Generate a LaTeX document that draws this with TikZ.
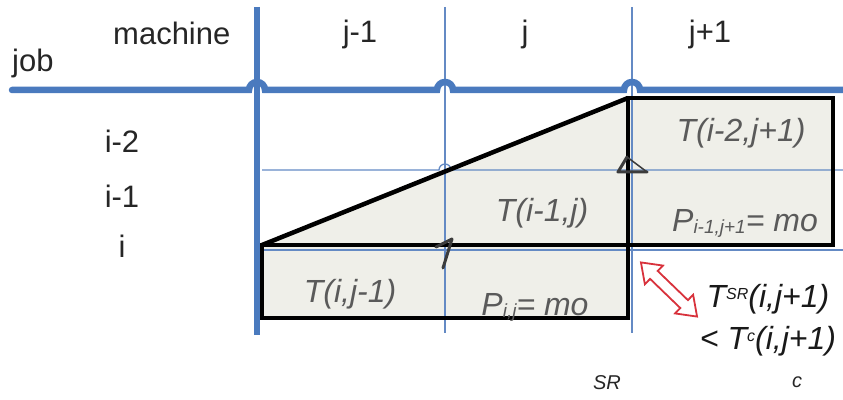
\documentclass[tikz,border=0pt]{standalone}
\usepackage{fontspec}
\setmainfont{Liberation Sans}
\definecolor{myblue}{RGB}{74,122,190}
\definecolor{thinblue}{RGB}{100,138,196}
\definecolor{cellfill}{RGB}{239,239,233}
\definecolor{celltext}{RGB}{90,90,90}
\definecolor{arrowred}{RGB}{216,50,60}
\definecolor{markgray}{RGB}{60,60,60}
\tikzset{
  thickgrid/.style={draw=myblue, line width=6.5pt},
  thingrid/.style={draw=thinblue, line width=1.3pt},
  blk/.style={draw=black, line width=4.5pt, line join=miter},
  lab/.style={font=\fontsize{31}{36}\selectfont, text=black!85, inner sep=0pt, anchor=base},
  cell/.style={font=\fontsize{32}{36}\selectfont\itshape, text=celltext, inner sep=0pt, anchor=base},
  note/.style={font=\fontsize{32}{36}\selectfont\itshape, text=black!90, inner sep=0pt, anchor=base},
  small/.style={font=\fontsize{20}{22}\selectfont\itshape, text=black!85, inner sep=0pt, anchor=base},
  markstroke/.style={draw=markgray, line width=3pt, line cap=round, line join=round},
}
\begin{document}
\begin{tikzpicture}[x=1pt,y=1pt]
\useasboundingbox (0,0) rectangle (843,399);
% gray fill
\fill[cellfill] (262,154) -- (628,301) -- (833,301) -- (833,154) -- (628,154) -- (628,81) -- (262,81) -- cycle;
% thin grid
\draw[thingrid] (262,229) -- (439,229) arc[start angle=180,end angle=0,radius=6] -- (843,229);
\draw[thingrid] (262,149) -- (843,149);
\draw[thingrid] (445,392) -- (445,66);
\draw[thingrid] (632,392) -- (632,66);
% thick grid
\draw[thickgrid] (257,392) -- (257,64);
\draw[thickgrid, line cap=round] (12,309) -- (249,309) arc[start angle=180,end angle=0,radius=8]
  -- (437,309) arc[start angle=180,end angle=0,radius=8]
  -- (624,309) arc[start angle=180,end angle=0,radius=8] -- (843,309);
% black outlines
\coordinate (A) at (262,154);
\coordinate (B) at (628,301);
\draw[blk] (262,81) rectangle (628,154);
\draw[blk] (628,154) rectangle (833,301);
\draw[blk] (A) -- (B);
% small marks
\draw[markstroke] (627,242) -- (618,227) -- (647,227);
\draw[markgray, line width=1.5pt] (627,242) -- (647,227);
\draw[markstroke] (436,152) -- (452,160) -- (443,131);
% red double arrow
\begin{scope}[shift={(669,109.5)}, rotate=-44]
\draw[arrowred, fill=white, line width=1.8pt, line join=miter]
  (-39,0) -- (-21,13) -- (-21,5.5) -- (21,5.5) -- (21,13) -- (39,0)
  -- (21,-13) -- (21,-5.5) -- (-21,-5.5) -- (-21,-13) -- cycle;
\end{scope}
% header labels
\node[lab, anchor=base west] (job) at (12,327) {job};
\node[lab, anchor=base west] (machine) at (113,354) {machine};
\node[lab] (cjm) at (360,356) {j-1};
\node[lab] (cj) at (525,356) {j};
\node[lab] (cjp) at (710,356) {j+1};
\node[lab] (rim2) at (122,246) {i-2};
\node[lab] (rim1) at (122,191) {i-1};
\node[lab] (ri) at (122,141) {i};
% cell texts
\node[cell] (t1) at (741,257) {T(i-2,j+1)};
\node[cell] (t2) at (542,177) {T(i-1,j)};
\node[cell] (p1) at (745,167) {P\raisebox{-2pt}{\fontsize{19}{20}\selectfont i-1,j+1}= mo};
\node[cell] (t3) at (350,96) {T(i,j-1)};
\node[cell] (p2) at (535,84) {P\raisebox{-2pt}{\fontsize{19}{20}\selectfont i,j}= mo};
% right notes
\node[note] (n1) at (768,92) {T\raisebox{8pt}{\fontsize{16}{16}\selectfont SR}(i,j+1)};
\node[note] (n2) at (768,49) {< T\raisebox{8pt}{\fontsize{16}{16}\selectfont c}(i,j+1)};
\node[small] (sr) at (607,10) {SR};
\node[small] (cc) at (797,12) {c};
\end{tikzpicture}
\end{document}
